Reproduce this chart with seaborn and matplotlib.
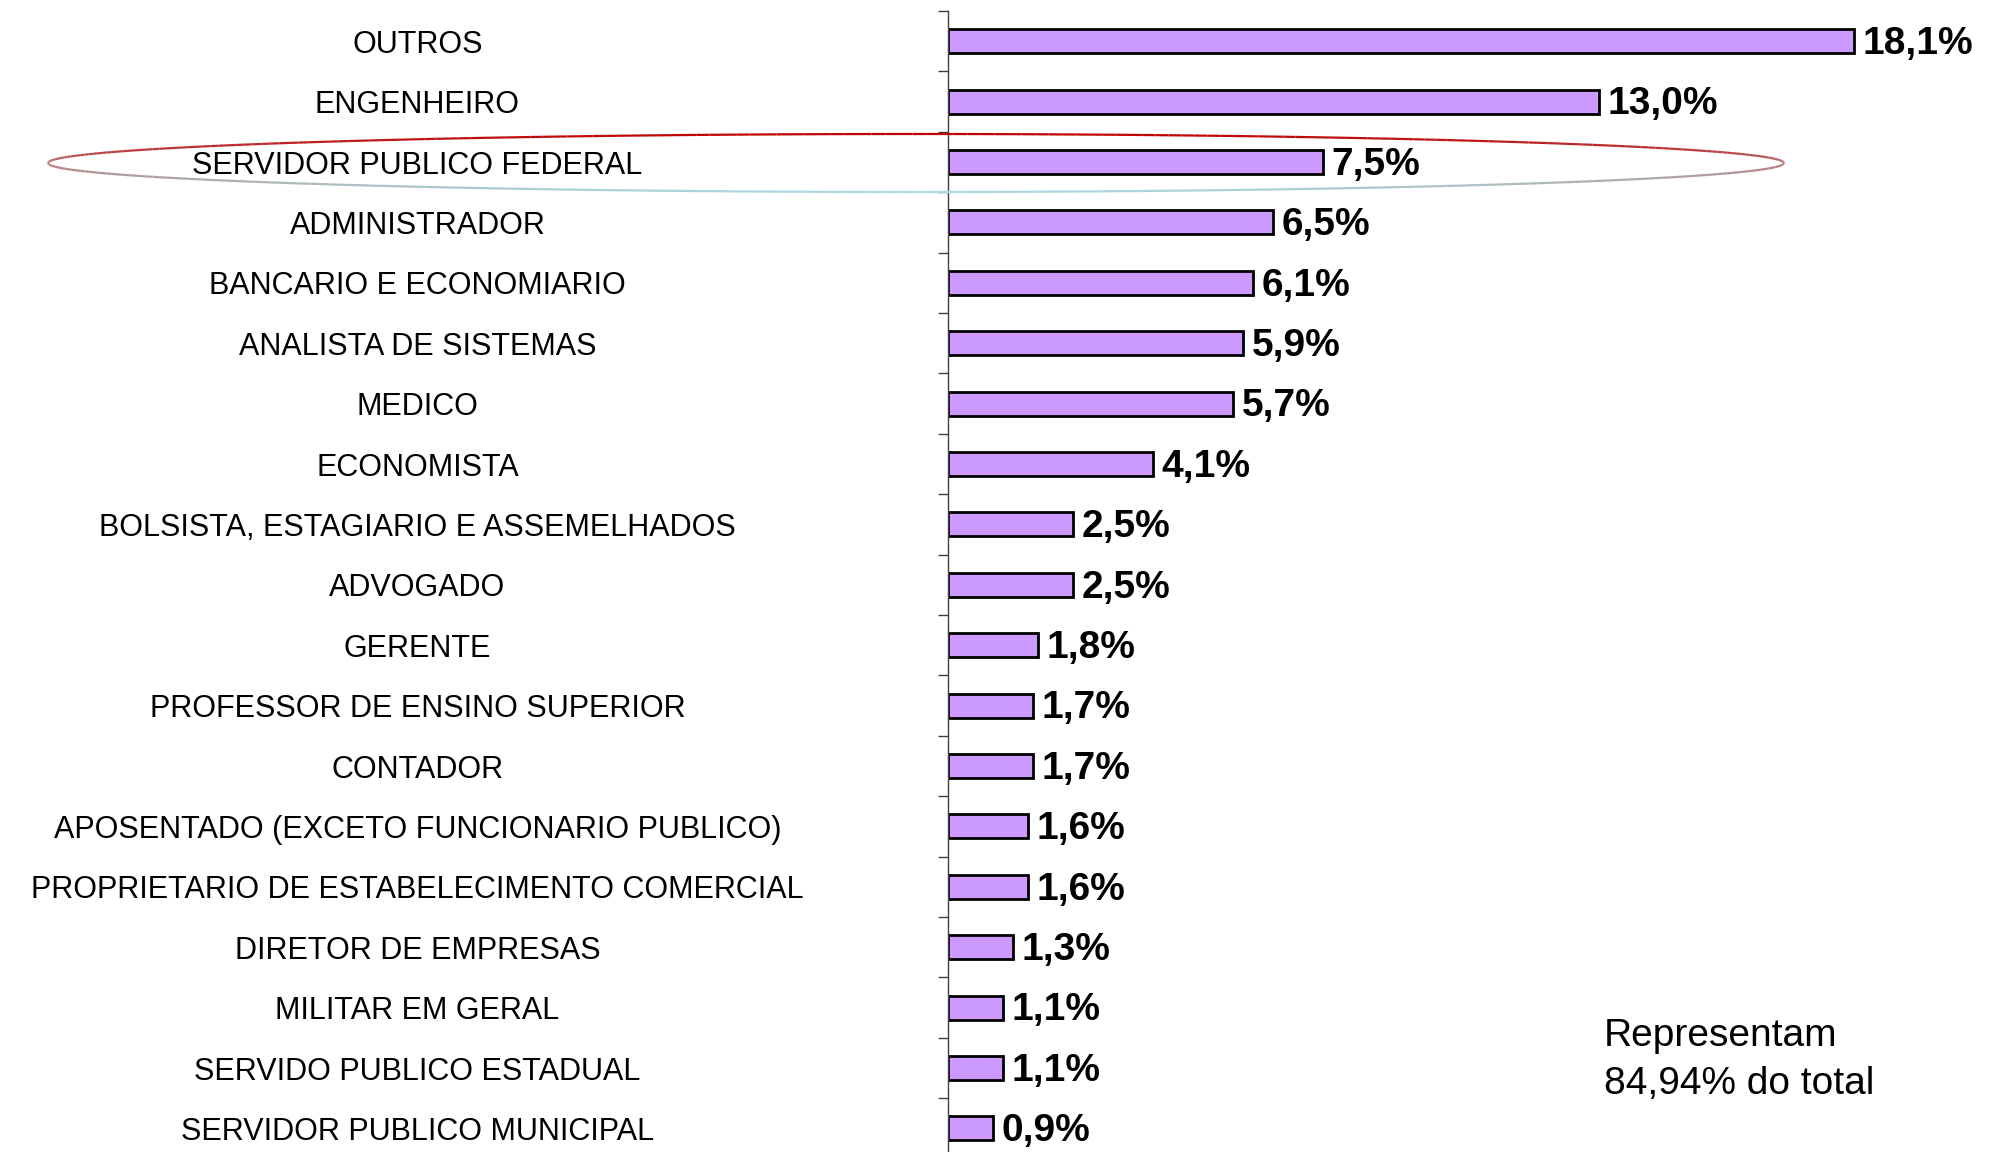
import numpy as np
import pandas as pd
import seaborn as sns
import matplotlib.pyplot as plt
from matplotlib.collections import LineCollection
from matplotlib.colors import to_rgb

# Data
categorias = ['OUTROS', 'ENGENHEIRO', 'SERVIDOR PUBLICO FEDERAL', 'ADMINISTRADOR',
              'BANCARIO E ECONOMIARIO', 'ANALISTA DE SISTEMAS', 'MEDICO', 'ECONOMISTA',
              'BOLSISTA, ESTAGIARIO E ASSEMELHADOS', 'ADVOGADO', 'GERENTE',
              'PROFESSOR DE ENSINO SUPERIOR', 'CONTADOR',
              'APOSENTADO (EXCETO FUNCIONARIO PUBLICO)',
              'PROPRIETARIO DE ESTABELECIMENTO COMERCIAL', 'DIRETOR DE EMPRESAS',
              'MILITAR EM GERAL', 'SERVIDO PUBLICO ESTADUAL', 'SERVIDOR PUBLICO MUNICIPAL']
percentuais = [18.1, 13.0, 7.5, 6.5, 6.1, 5.9, 5.7, 4.1, 2.5, 2.5, 1.8,
               1.7, 1.7, 1.6, 1.6, 1.3, 1.1, 1.1, 0.9]
rotulos = ['18,1%', '13,0%', '7,5%', '6,5%', '6,1%', '5,9%', '5,7%', '4,1%', '2,5%', '2,5%',
           '1,8%', '1,7%', '1,7%', '1,6%', '1,6%', '1,3%', '1,1%', '1,1%', '0,9%']
nota = 'Representam\n84,94% do total'

df = pd.DataFrame({'ocupacao': categorias, 'pct': percentuais})

sns.set_style('white')
plt.rcParams['font.family'] = ['Liberation Sans', 'DejaVu Sans']
plt.rcParams['text.color'] = 'black'
plt.rcParams['ytick.labelcolor'] = 'black'

fig = plt.figure(figsize=(19.91, 11.52), dpi=100)
# axes runs a little past the bottom of the figure, like the original
ax = fig.add_axes([948 / 1991, -6.6 / 1152, 1 - 948 / 1991, 1147.6 / 1152])

sns.barplot(data=df, x='pct', y='ocupacao', orient='h', color='#CC99FF',
            saturation=1, edgecolor='black', linewidth=2, width=0.40, ax=ax)

ax.set_xlim(0, 20.835)
ax.set_ylim(18.5, -0.5)
ax.set_xlabel('')
ax.set_ylabel('')
ax.set_xticks([])

# category labels centered in the left margin
ax.set_yticks(range(len(categorias)))
ax.set_yticklabels(categorias, fontsize=22, ha='center', color='black')
ax.tick_params(axis='y', which='major', length=0, pad=382)
ax.set_yticks(np.arange(-0.5, len(categorias), 1), minor=True)
ax.tick_params(axis='y', which='minor', length=7, width=1, color='#404040', direction='out', left=True)

for s in ['top', 'right', 'bottom']:
    ax.spines[s].set_visible(False)
ax.spines['left'].set_color('#404040')
ax.spines['left'].set_linewidth(1)

# value labels at bar ends
for i, (v, lab) in enumerate(zip(percentuais, rotulos)):
    ax.annotate(lab, (v, i), xytext=(6, -2), textcoords='offset points',
                ha='left', va='center', fontsize=28, fontweight='bold', color='black')

# highlight ellipse around SERVIDOR PUBLICO FEDERAL
t = np.linspace(0, 2 * np.pi, 400)
cx, cy, rx, ry = 916, 1152 - 163, 868, 29
px = (cx + rx * np.cos(t)) / 1991
py = (cy + ry * np.sin(t)) / 1152
pts = np.column_stack([px, py])
segs = np.stack([pts[:-1], pts[1:]], axis=1)
red, blue = np.array(to_rgb('#C00000')), np.array(to_rgb('#A9D9DD'))
w = (1 - np.sin((t[:-1] + t[1:]) / 2)) / 2
cols = [tuple(red * (1 - k) + blue * k) for k in w]
lc = LineCollection(segs, colors=cols, linewidths=1.6, transform=fig.transFigure)
fig.add_artist(lc)

fig.text(1604 / 1991, 1 - 1060 / 1152, nota, fontsize=28, ha='left', va='center', linespacing=1.45)

fig.savefig('out.png', dpi=100)
